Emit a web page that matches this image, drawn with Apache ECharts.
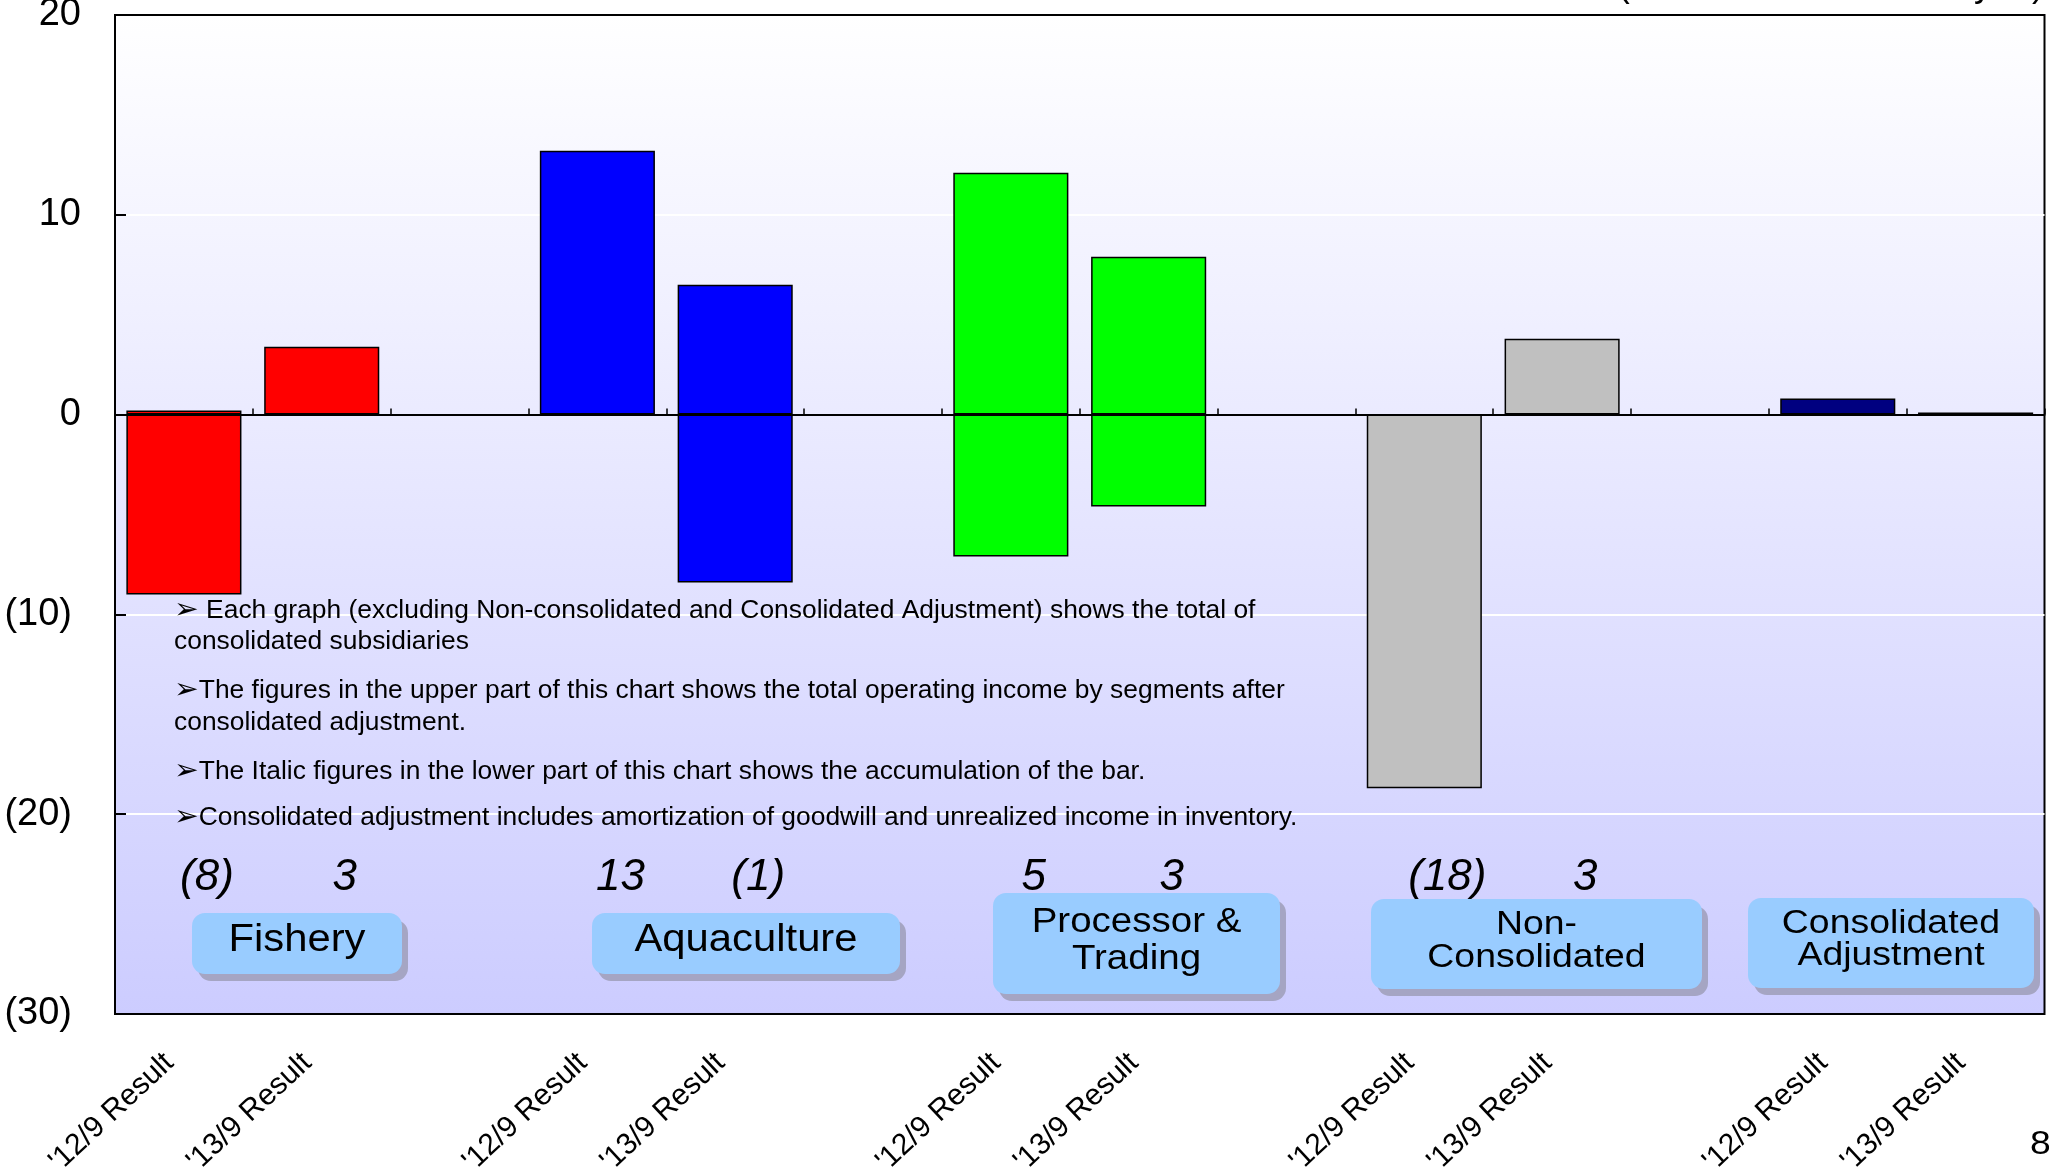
<!DOCTYPE html>
<html>
<head>
<meta charset="utf-8">
<title>Operating income by segment</title>
<style>
  html, body { margin: 0; padding: 0; background: #ffffff; }
  #chart { width: 2049px; height: 1174px; }
</style>
<script src="https://cdn.jsdelivr.net/npm/echarts@6/dist/echarts.min.js"></script>
</head>
<body>
<div id="chart"></div>
<script>
// ---- data ----------------------------------------------------------------
// Two result periods per segment, with an empty slot between segments.
const categories = [
  "'12/9 Result", "'13/9 Result", '',
  "'12/9 Result", "'13/9 Result", '',
  "'12/9 Result", "'13/9 Result", '',
  "'12/9 Result", "'13/9 Result", '',
  "'12/9 Result", "'13/9 Result"
];
// Profitable subsidiaries (stacked upward from zero)
const profitValues = [0.2, 3.4, null, 13.2, 6.5, null, 12.1, 7.9, null, null, 3.8, null, 0.8, 0.1];
// Loss-making subsidiaries (stacked downward from zero)
const lossValues = [-9.0, null, null, null, -8.4, null, -7.1, -4.6, null, -18.7, null, null, null, null];

const segmentNames = ['Fishery', 'Aquaculture', 'Processor &\nTrading', 'Non-\nConsolidated', 'Consolidated\nAdjustment'];
// Whether the accumulated figure is printed under each segment
const segmentShowsTotal = [true, true, true, true, false];

const yTickValues = [20, 10, 0, -10, -20, -30];

const notes = [
  [' Each graph (excluding Non-consolidated and Consolidated Adjustment) shows the total of', 'consolidated subsidiaries'],
  ['The figures in the upper part of this chart shows the total operating income by segments after', 'consolidated adjustment.'],
  ['The Italic figures in the lower part of this chart shows the accumulation of the bar.'],
  ['Consolidated adjustment includes amortization of goodwill and unrealized income in inventory.']
];
const unitText = '(Unit: Hundred million yen)';
const pageNumber = '8';

// ---- styles & layout -----------------------------------------------------
const FONT = "'Liberation Sans', Arial, Helvetica, sans-serif";
const segmentColors = ['#FF0000', '#0000FF', '#00FF00', '#C0C0C0', '#000080'];
const STRETCH = 1.1;              // slide text is set slightly wide
const TOTAL_ROW = -23.2;          // axis value of the row of accumulated figures

const boxLayout = [
  { x: 192,  y: 913, w: 210, h: 61,  size: 38, lh: 38 },
  { x: 592,  y: 913, w: 308, h: 61,  size: 38, lh: 38 },
  { x: 993,  y: 893, w: 287, h: 101, size: 35, lh: 37 },
  { x: 1371, y: 899, w: 331, h: 90,  size: 34, lh: 33 },
  { x: 1748, y: 898, w: 286, h: 90,  size: 34, lh: 32 }
];
const noteLayout = { x: 174, lines: [611, 642, 691, 723, 772, 818], size: 25 };

// ---- derived -------------------------------------------------------------
const segmentOf = i => Math.floor(i / 3);

function netTotal(i) {
  const sum = (profitValues[i] || 0) + (lossValues[i] || 0);
  return Math.trunc(Math.round(sum * 10) / 10);
}
function fmtParen(v) {
  return v < 0 ? '(' + (-v) + ')' : String(v);
}

function barData(values) {
  return values.map((v, i) => ({
    value: v,
    itemStyle: { color: segmentColors[segmentOf(i)] }
  }));
}

const totalPoints = [];
categories.forEach((c, i) => {
  if (c && segmentShowsTotal[segmentOf(i)]) {
    totalPoints.push({ value: [i, TOTAL_ROW], label: { formatter: fmtParen(netTotal(i)) } });
  }
});

// ---- annotation graphics -------------------------------------------------
const graphics = [];

segmentNames.forEach((name, s) => {
  const b = boxLayout[s];
  graphics.push({
    type: 'rect', z: 20, silent: true,
    shape: { x: b.x + 6, y: b.y + 7, width: b.w, height: b.h, r: 13 },
    style: { fill: '#A5A5C3' }
  });
  graphics.push({
    type: 'rect', z: 21, silent: true,
    shape: { x: b.x, y: b.y, width: b.w, height: b.h, r: 13 },
    style: { fill: '#99CCFF' }
  });
  graphics.push({
    type: 'text', z: 22, silent: true,
    x: b.x + b.w / 2, y: b.y + b.h / 2 - 3,
    scaleX: STRETCH,
    style: {
      text: name, fill: '#000', fontFamily: FONT, fontSize: b.size, lineHeight: b.lh,
      align: 'center', textAlign: 'center', verticalAlign: 'middle', textVerticalAlign: 'middle'
    }
  });
});

// bulleted notes: first line of each paragraph carries an arrowhead bullet
let lineIdx = 0;
notes.forEach(par => {
  par.forEach((line, k) => {
    graphics.push({
      type: 'text', z: 22, silent: true,
      x: noteLayout.x, y: noteLayout.lines[lineIdx++],
      scaleX: STRETCH * 0.96,
      style: {
        text: k === 0 ? '{b|\u27A2}' + line : line,
        fill: '#000', fontFamily: FONT, fontSize: noteLayout.size,
        align: 'left', textAlign: 'left', verticalAlign: 'middle', textVerticalAlign: 'middle',
        rich: { b: { fontSize: 28, fill: '#000', fontFamily: "'DejaVu Sans', sans-serif" } }
      }
    });
  });
});

graphics.push({
  type: 'text', z: 22, silent: true,
  x: 2044, y: -13.5,
  style: {
    text: unitText, fill: '#000', fontFamily: FONT, fontSize: 36,
    align: 'right', textAlign: 'right', verticalAlign: 'middle', textVerticalAlign: 'middle'
  }
});
graphics.push({
  type: 'text', z: 22, silent: true,
  x: 2030, y: 1145, scaleX: STRETCH,
  style: {
    text: pageNumber, fill: '#000', fontFamily: FONT, fontSize: 34,
    align: 'left', textAlign: 'left', verticalAlign: 'middle', textVerticalAlign: 'middle'
  }
});

// ---- chart ---------------------------------------------------------------
const chart = echarts.init(document.getElementById('chart'), null, { renderer: 'canvas' });

chart.setOption({
  animation: false,
  backgroundColor: '#ffffff',
  textStyle: { fontFamily: FONT },
  grid: {
    left: 115, right: 4.5, top: 15, bottom: 160,
    show: true,
    outerBoundsMode: 'none',
    containLabel: false,
    backgroundColor: new echarts.graphic.LinearGradient(0, 0, 0, 1, [
      { offset: 0, color: '#FFFFFF' },
      { offset: 1, color: '#CCCCFF' }
    ]),
    borderColor: '#000000',
    borderWidth: 2
  },
  xAxis: [
    {
      // period labels along the bottom edge
      type: 'category',
      data: categories,
      position: 'bottom',
      axisLine: { show: false, onZero: false },
      axisTick: { show: false },
      splitLine: { show: false },
      axisLabel: {
        interval: 0, rotate: 43, margin: 31,
        padding: [0, 20, 0, 0],
        color: '#000', fontSize: 30, fontFamily: FONT,
        hideOverlap: false
      }
    },
    {
      // zero line with ticks between the categories
      type: 'category',
      data: categories,
      position: 'bottom',
      z: 6,
      axisLine: { show: true, onZero: true, lineStyle: { color: '#000', width: 2 } },
      axisTick: { show: true, inside: true, length: 6, interval: 0, lineStyle: { color: '#000', width: 1.5 } },
      axisLabel: { show: false },
      splitLine: { show: false }
    }
  ],
  yAxis: {
    type: 'value',
    min: yTickValues[yTickValues.length - 1],
    max: yTickValues[0],
    interval: yTickValues[0] - yTickValues[1],
    axisLine: { show: true, lineStyle: { color: '#000', width: 2 } },
    axisTick: { show: true, inside: true, length: 11, lineStyle: { color: '#000', width: 2 } },
    splitLine: { show: true, showMinLine: false, showMaxLine: false, lineStyle: { color: '#FFFFFF', width: 2 } },
    axisLabel: {
      margin: 34,
      color: '#000', fontSize: 38, fontFamily: FONT,
      formatter: v => v < 0 ? '{n|(' + (-v) + ')}' : String(v),
      rich: { n: { color: '#000', fontSize: 38, fontFamily: FONT, padding: [0, 9, 0, 0] } }
    }
  },
  series: [
    {
      name: 'Profit',
      type: 'bar',
      stack: 'segment',
      barWidth: '83.5%',
      data: barData(profitValues),
      itemStyle: { borderColor: '#000', borderWidth: 1.5 },
      z: 3
    },
    {
      name: 'Loss',
      type: 'bar',
      stack: 'segment',
      barWidth: '83.5%',
      data: barData(lossValues),
      itemStyle: { borderColor: '#000', borderWidth: 1.5 },
      z: 3
    },
    {
      name: 'Accumulation',
      type: 'scatter',
      data: totalPoints,
      symbolSize: 1,
      silent: true,
      itemStyle: { color: 'rgba(0,0,0,0)' },
      z: 25,
      label: {
        show: true, position: 'inside', offset: [23, 0],
        color: '#000000', textBorderWidth: 0, opacity: 1,
        fontSize: 44, fontStyle: 'italic', fontFamily: FONT
      }
    }
  ],
  graphic: graphics
});
</script>
</body>
</html>
